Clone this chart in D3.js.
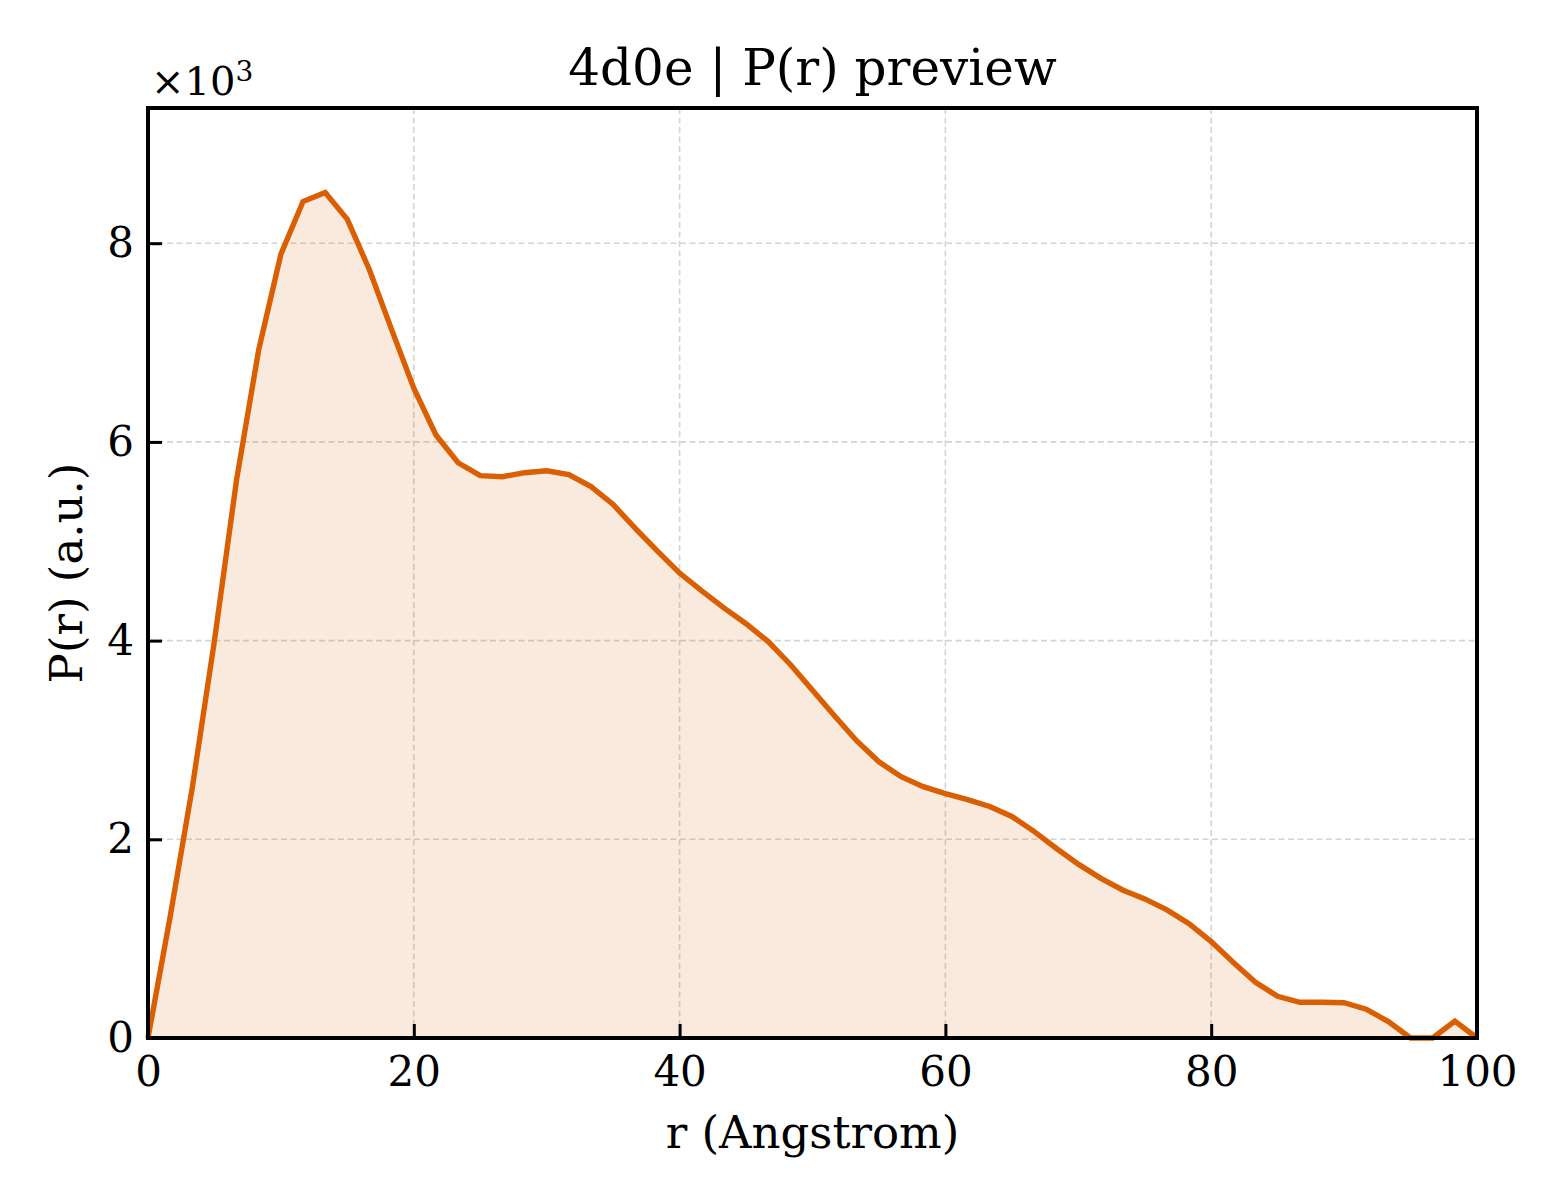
<!DOCTYPE html>
<html>
<head>
<meta charset="utf-8">
<script src="https://cdn.jsdelivr.net/npm/d3@7"></script>
<style>
  body { margin: 0; background: #fff; }
  text { font-family: "DejaVu Serif", serif; fill: #000; }
</style>
</head>
<body>
<svg id="chart" width="1560" height="1200"></svg>
<script>
// P(r) curve, r sampled every 100/60 Angstrom, values in units of 10^3
var rValues = d3.range(61).map(function(i) { return i * 100 / 60; });
var prValues = [0, 1.22, 2.52, 4.0, 5.62, 6.93, 7.89, 8.42, 8.51, 8.24,
                7.73, 7.13, 6.54, 6.07, 5.79, 5.66, 5.65, 5.69, 5.71, 5.67,
                5.55, 5.37, 5.13, 4.90, 4.68, 4.50, 4.33, 4.17, 3.99, 3.76,
                3.50, 3.24, 2.99, 2.78, 2.63, 2.53, 2.46, 2.40, 2.33, 2.23,
                2.08, 1.91, 1.75, 1.61, 1.49, 1.40, 1.29, 1.15, 0.97, 0.76,
                0.56, 0.42, 0.36, 0.36, 0.355, 0.29, 0.165, 0, 0, 0.17, 0];
var xTicks = [0, 20, 40, 60, 80, 100];
var yTicks = [0, 2, 4, 6, 8];

var svg = d3.select("#chart"),
    margin = {top: 108, right: 83, bottom: 162, left: 148},
    width = 1560 - margin.left - margin.right,
    height = 1200 - margin.top - margin.bottom;

var data = rValues.map(function(r, i) { return {r: r, p: prValues[i]}; });

var x = d3.scaleLinear().domain([0, 100]).range([0, width]),
    y = d3.scaleLinear().domain([0, d3.max(prValues) * 1.1]).range([height, 0]);

var g = svg.append("g")
    .attr("transform", "translate(" + margin.left + "," + margin.top + ")");

// grid
g.selectAll(".gx").data(xTicks).enter().append("line")
    .attr("x1", function(d) { return x(d); }).attr("x2", function(d) { return x(d); })
    .attr("y1", 0).attr("y2", height)
    .attr("stroke", "#d4d4d4").attr("stroke-width", 1.6).attr("stroke-dasharray", "6,3.5");
g.selectAll(".gy").data(yTicks).enter().append("line")
    .attr("x1", 0).attr("x2", width)
    .attr("y1", function(d) { return y(d); }).attr("y2", function(d) { return y(d); })
    .attr("stroke", "#d4d4d4").attr("stroke-width", 1.6).attr("stroke-dasharray", "6,3.5");

// area + line
g.append("path").datum(data)
    .attr("fill", "#d95f02").attr("fill-opacity", 0.13)
    .attr("d", d3.area().x(function(d) { return x(d.r); }).y0(y(0)).y1(function(d) { return y(d.p); }));
g.append("path").datum(data)
    .attr("fill", "none").attr("stroke", "#d95f02").attr("stroke-width", 5.4)
    .attr("stroke-linejoin", "miter")
    .attr("d", d3.line().x(function(d) { return x(d.r); }).y(function(d) { return y(d.p); }));

// axes: ticks pointing inward
var xAxis = g.append("g").attr("transform", "translate(0," + height + ")")
    .call(d3.axisBottom(x).tickValues(xTicks).tickSizeInner(-14).tickSizeOuter(0).tickPadding(30)
        .tickFormat(d3.format("d")));
var yAxis = g.append("g")
    .call(d3.axisLeft(y).tickValues(yTicks).tickSizeInner(-14).tickSizeOuter(0).tickPadding(28)
        .tickFormat(d3.format("d")));
[xAxis, yAxis].forEach(function(a) {
  a.select(".domain").remove();
  a.selectAll(".tick line").attr("stroke", "#000").attr("stroke-width", 3);
  a.selectAll(".tick text").style("font-family", "DejaVu Serif").style("font-size", "42px").attr("fill", "#000");
});
xAxis.selectAll(".tick text").attr("dy", "0.71em").attr("y", 18);
yAxis.selectAll(".tick text").attr("x", -14);

// frame
g.append("rect").attr("width", width).attr("height", height)
    .attr("fill", "none").attr("stroke", "#000").attr("stroke-width", 4);

// labels
svg.append("text").attr("x", margin.left + width / 2).attr("y", 85)
    .attr("text-anchor", "middle").style("font-size", "50px").text("4d0e | P(r) preview");
svg.append("text").attr("x", margin.left + width / 2).attr("y", 1148)
    .attr("text-anchor", "middle").style("font-size", "45px").text("r (Angstrom)");
svg.append("text").attr("transform", "translate(82," + (margin.top + height / 2) + ") rotate(-90)")
    .attr("text-anchor", "middle").style("font-size", "45px").text("P(r) (a.u.)");
var off = svg.append("text").attr("x", 151).attr("y", 95).style("font-size", "40px");
off.append("tspan").text("×10");
off.append("tspan").attr("dy", -14).style("font-size", "28px").text("3");
</script>
</body>
</html>
